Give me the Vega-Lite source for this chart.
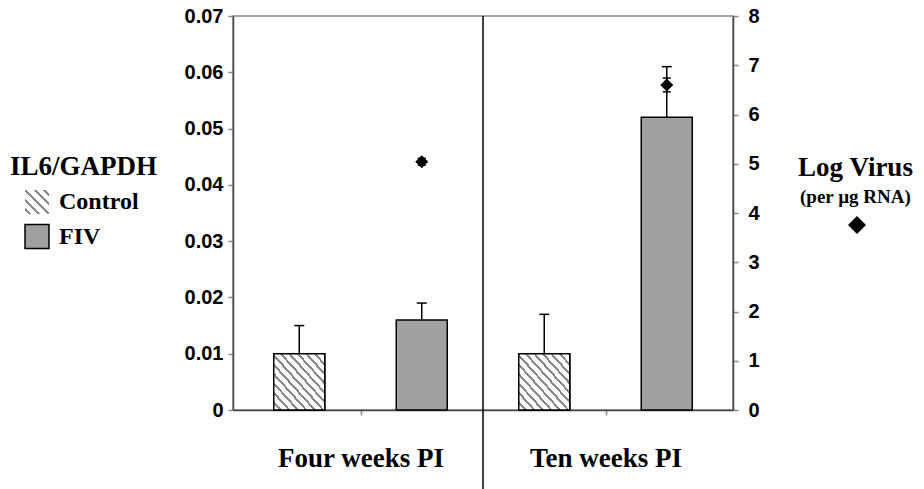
{
  "$schema": "https://vega.github.io/schema/vega-lite/v6.json",
  "width": 500,
  "height": 394,
  "autosize": "none",
  "padding": {"left": 233, "top": 16, "right": 191, "bottom": 79},
  "background": "white",
  "datasets": {
    "bars": [
      {"pos": 0.5, "grp": "Control", "il6": 0.01, "err": 0.015},
      {"pos": 1.5, "grp": "FIV", "il6": 0.016, "err": 0.019},
      {"pos": 2.5, "grp": "Control", "il6": 0.01, "err": 0.017},
      {"pos": 3.5, "grp": "FIV", "il6": 0.052, "err": 0.061}
    ],
    "virus": [
      {"pos": 1.5, "series": "Log Virus", "virus": 5.04, "lo": 4.97, "hi": 5.11},
      {"pos": 3.5, "series": "Log Virus", "virus": 6.6, "lo": 6.46, "hi": 6.74}
    ],
    "divider": [
      {"pos": 2, "top": 0.07, "bottom": -0.0142}
    ]
  },
  "config": {
    "view": {"stroke": "#888888", "strokeWidth": 1.5},
    "axis": {
      "grid": false,
      "domainColor": "#444444",
      "domainWidth": 1.5,
      "tickColor": "#888888",
      "tickWidth": 1.5,
      "tickSize": 5,
      "labelColor": "black"
    }
  },
  "resolve": {
    "scale": {"y": "independent", "shape": "independent"},
    "legend": {"shape": "independent"}
  },
  "layer": [
    {
      "layer": [
        {
          "data": {"name": "bars"},
          "mark": {"type": "bar", "orient": "vertical", "width": 51, "stroke": "black", "strokeWidth": 1.5},
          "encoding": {
            "x": {
              "field": "pos", "type": "quantitative",
              "scale": {"domain": [0, 4], "nice": false, "zero": false},
              "axis": {
                "orient": "bottom",
                "values": [1, 3],
                "labelExpr": "datum.value == 1 ? 'Four weeks PI' : 'Ten weeks PI'",
                "title": null,
                "labelFont": "Liberation Serif",
                "labelFontWeight": "bold",
                "labelFontSize": 27,
                "labelBaseline": "alphabetic",
                "labelPadding": 51,
                "labelFlush": false,
                "labelOverlap": false
              }
            },
            "y": {
              "field": "il6", "type": "quantitative",
              "scale": {"domain": [0, 0.07], "nice": false},
              "axis": {
                "orient": "left",
                "values": [0, 0.01, 0.02, 0.03, 0.04, 0.05, 0.06, 0.07],
                "labelExpr": "datum.value == 0 ? '0' : format(datum.value, '.2f')",
                "title": null,
                "labelFont": "Liberation Sans",
                "labelFontWeight": "bold",
                "labelFontSize": 20,
                "labelPadding": 5
              }
            },
            "fill": {
              "field": "grp", "type": "nominal",
              "scale": {"domain": ["Control", "FIV"], "range": ["#ffffff", "#a0a0a0"]},
              "legend": {
                "title": null,
                "values": ["FIV"],
                "orient": "none",
                "legendX": -223,
                "legendY": 207.5,
                "padding": 0,
                "labelFont": "Liberation Serif",
                "labelFontWeight": "bold",
                "labelFontSize": 24,
                "labelColor": "black",
                "labelOffset": 9,
                "symbolType": "square",
                "symbolSize": 576,
                "symbolStrokeColor": "black",
                "symbolStrokeWidth": 1.5,
                "symbolOffset": 14
              }
            }
          }
        },
        {
          "data": {"name": "bars"},
          "transform": [{"filter": "datum.grp === 'Control'"}],
          "mark": {
            "type": "point", "opacity": 0, "filled": true, "stroke": "black", "strokeWidth": 1.5,
            "fill": {
              "gradient": "linear", "x1": 0, "y1": 1, "x2": 1, "y2": 0,
              "stops": [
                {"offset": 0, "color": "#ffffff"}, {"offset": 0.07, "color": "#ffffff"}, {"offset": 0.07, "color": "#8a8a8a"}, {"offset": 0.13, "color": "#8a8a8a"},
                {"offset": 0.13, "color": "#ffffff"}, {"offset": 0.27, "color": "#ffffff"}, {"offset": 0.27, "color": "#8a8a8a"}, {"offset": 0.33, "color": "#8a8a8a"},
                {"offset": 0.33, "color": "#ffffff"}, {"offset": 0.47, "color": "#ffffff"}, {"offset": 0.47, "color": "#8a8a8a"}, {"offset": 0.53, "color": "#8a8a8a"},
                {"offset": 0.53, "color": "#ffffff"}, {"offset": 0.67, "color": "#ffffff"}, {"offset": 0.67, "color": "#8a8a8a"}, {"offset": 0.73, "color": "#8a8a8a"},
                {"offset": 0.73, "color": "#ffffff"}, {"offset": 0.87, "color": "#ffffff"}, {"offset": 0.87, "color": "#8a8a8a"}, {"offset": 0.93, "color": "#8a8a8a"},
                {"offset": 0.93, "color": "#ffffff"}, {"offset": 1, "color": "#ffffff"}
              ]
            }
          },
          "encoding": {
            "x": {"field": "pos", "type": "quantitative"},
            "y": {"field": "il6", "type": "quantitative"},
            "stroke": {"value": "black"},
            "shape": {
              "field": "grp", "type": "nominal",
              "scale": {"domain": ["Control"], "range": ["square"]},
              "legend": {
                "title": "IL6/GAPDH",
                "orient": "none",
                "legendX": -223,
                "legendY": 138,
                "padding": 0,
                "titleFont": "Liberation Serif",
                "titleFontWeight": "bold",
                "titleFontSize": 27,
                "titleColor": "black",
                "titlePadding": 8,
                "labelFont": "Liberation Serif",
                "labelFontWeight": "bold",
                "labelFontSize": 24,
                "labelColor": "black",
                "labelOffset": 9,
                "symbolSize": 576,
                "symbolOpacity": 1,
                "symbolStrokeColor": "black",
                "symbolStrokeWidth": 1.5,
                "symbolOffset": 14
              }
            }
          }
        },
        {
          "data": {"name": "bars"},
          "transform": [{"filter": "datum.grp === 'Control'"}],
          "mark": {
            "type": "bar", "orient": "vertical", "width": 51, "stroke": "black", "strokeWidth": 1.5,
            "fill": {
              "gradient": "linear", "x1": 0, "y1": 1, "x2": 1, "y2": 0,
              "stops": [
                {"offset": 0, "color": "#ffffff"}, {"offset": 0.0553, "color": "#ffffff"}, {"offset": 0.0553, "color": "#8a8a8a"}, {"offset": 0.0833, "color": "#8a8a8a"},
                {"offset": 0.0833, "color": "#ffffff"}, {"offset": 0.1387, "color": "#ffffff"}, {"offset": 0.1387, "color": "#8a8a8a"}, {"offset": 0.1667, "color": "#8a8a8a"},
                {"offset": 0.1667, "color": "#ffffff"}, {"offset": 0.222, "color": "#ffffff"}, {"offset": 0.222, "color": "#8a8a8a"}, {"offset": 0.25, "color": "#8a8a8a"},
                {"offset": 0.25, "color": "#ffffff"}, {"offset": 0.3053, "color": "#ffffff"}, {"offset": 0.3053, "color": "#8a8a8a"}, {"offset": 0.3333, "color": "#8a8a8a"},
                {"offset": 0.3333, "color": "#ffffff"}, {"offset": 0.3887, "color": "#ffffff"}, {"offset": 0.3887, "color": "#8a8a8a"}, {"offset": 0.4167, "color": "#8a8a8a"},
                {"offset": 0.4167, "color": "#ffffff"}, {"offset": 0.472, "color": "#ffffff"}, {"offset": 0.472, "color": "#8a8a8a"}, {"offset": 0.5, "color": "#8a8a8a"},
                {"offset": 0.5, "color": "#ffffff"}, {"offset": 0.5553, "color": "#ffffff"}, {"offset": 0.5553, "color": "#8a8a8a"}, {"offset": 0.5833, "color": "#8a8a8a"},
                {"offset": 0.5833, "color": "#ffffff"}, {"offset": 0.6387, "color": "#ffffff"}, {"offset": 0.6387, "color": "#8a8a8a"}, {"offset": 0.6667, "color": "#8a8a8a"},
                {"offset": 0.6667, "color": "#ffffff"}, {"offset": 0.722, "color": "#ffffff"}, {"offset": 0.722, "color": "#8a8a8a"}, {"offset": 0.75, "color": "#8a8a8a"},
                {"offset": 0.75, "color": "#ffffff"}, {"offset": 0.8053, "color": "#ffffff"}, {"offset": 0.8053, "color": "#8a8a8a"}, {"offset": 0.8333, "color": "#8a8a8a"},
                {"offset": 0.8333, "color": "#ffffff"}, {"offset": 0.8887, "color": "#ffffff"}, {"offset": 0.8887, "color": "#8a8a8a"}, {"offset": 0.9167, "color": "#8a8a8a"},
                {"offset": 0.9167, "color": "#ffffff"}, {"offset": 0.972, "color": "#ffffff"}, {"offset": 0.972, "color": "#8a8a8a"}, {"offset": 1, "color": "#8a8a8a"}
              ]
            }
          },
          "encoding": {
            "x": {"field": "pos", "type": "quantitative"},
            "y": {"field": "il6", "type": "quantitative"}
          }
        },
        {
          "data": {"name": "bars"},
          "mark": {"type": "rule", "color": "black", "strokeWidth": 1.5},
          "encoding": {
            "x": {"field": "pos", "type": "quantitative"},
            "y": {"field": "il6", "type": "quantitative"},
            "y2": {"field": "err"}
          }
        },
        {
          "data": {"name": "bars"},
          "mark": {"type": "point", "shape": "stroke", "size": 100, "filled": false, "stroke": "black", "strokeWidth": 1.5, "opacity": 1},
          "encoding": {
            "x": {"field": "pos", "type": "quantitative"},
            "y": {"field": "err", "type": "quantitative"}
          }
        },
        {
          "data": {"name": "divider"},
          "mark": {"type": "rule", "color": "black", "strokeWidth": 1.5, "clip": false},
          "encoding": {
            "x": {"field": "pos", "type": "quantitative"},
            "y": {"field": "top", "type": "quantitative"},
            "y2": {"field": "bottom"}
          }
        }
      ]
    },
    {
      "layer": [
        {
          "data": {"name": "virus"},
          "mark": {"type": "rule", "color": "black", "strokeWidth": 1.5},
          "encoding": {
            "x": {"field": "pos", "type": "quantitative"},
            "y": {
              "field": "lo", "type": "quantitative",
              "scale": {"domain": [0, 8], "nice": false},
              "axis": {
                "orient": "right",
                "values": [0, 1, 2, 3, 4, 5, 6, 7, 8],
                "format": "d",
                "title": "Log Virus",
                "titleAngle": 0,
                "titleX": 122,
                "titleY": 159,
                "titleAlign": "center",
                "titleBaseline": "alphabetic",
                "titleFont": "Liberation Serif",
                "titleFontWeight": "bold",
                "titleFontSize": 27,
                "titleColor": "black",
                "labelFont": "Liberation Sans",
                "labelFontWeight": "bold",
                "labelFontSize": 20,
                "labelPadding": 10
              }
            },
            "y2": {"field": "hi"}
          }
        },
        {
          "data": {"name": "virus"},
          "mark": {"type": "point", "shape": "stroke", "size": 64, "filled": false, "stroke": "black", "strokeWidth": 1.5, "opacity": 1},
          "encoding": {
            "x": {"field": "pos", "type": "quantitative"},
            "y": {"field": "lo", "type": "quantitative"}
          }
        },
        {
          "data": {"name": "virus"},
          "mark": {"type": "point", "shape": "stroke", "size": 64, "filled": false, "stroke": "black", "strokeWidth": 1.5, "opacity": 1},
          "encoding": {
            "x": {"field": "pos", "type": "quantitative"},
            "y": {"field": "hi", "type": "quantitative"}
          }
        },
        {
          "data": {"name": "virus"},
          "mark": {"type": "point", "filled": true, "color": "black", "size": 169, "opacity": 1},
          "encoding": {
            "x": {"field": "pos", "type": "quantitative"},
            "y": {"field": "virus", "type": "quantitative"},
            "shape": {
              "field": "series", "type": "nominal",
              "scale": {"domain": ["Log Virus"], "range": ["diamond"]},
              "legend": {
                "title": "(per µg RNA)",
                "orient": "none",
                "legendX": 567,
                "legendY": 172,
                "padding": 0,
                "titleFont": "Liberation Serif",
                "titleFontWeight": "bold",
                "titleFontSize": 19,
                "titleColor": "black",
                "titlePadding": 8,
                "labelExpr": "''",
                "symbolSize": 324,
                "symbolFillColor": "black",
                "symbolStrokeColor": "black",
                "symbolOffset": 47
              }
            }
          }
        }
      ]
    }
  ]
}
